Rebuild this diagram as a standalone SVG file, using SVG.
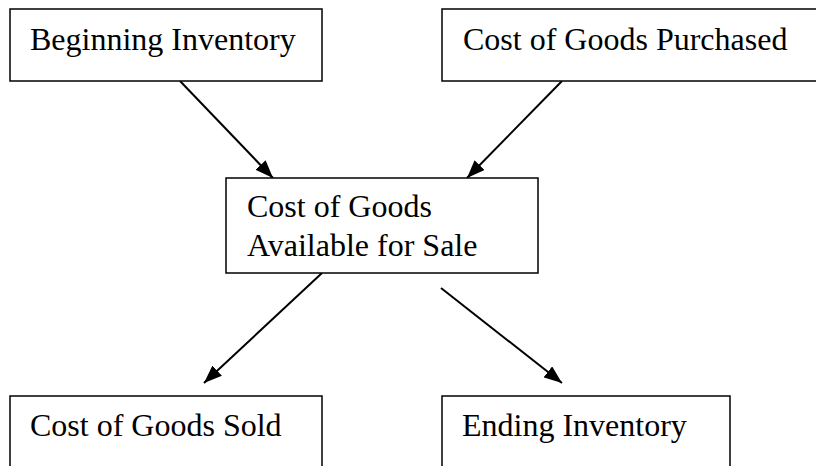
<svg xmlns="http://www.w3.org/2000/svg" width="816" height="466" viewBox="0 0 816 466">
<style>
.box{fill:#fff;stroke:#000;stroke-width:1.5}
.lbl{font-family:"Liberation Serif","Times New Roman",serif;font-size:32px;fill:#000}
.conn{stroke:#000;stroke-width:2;fill:none}
</style>
<defs>
<marker id="ah" markerWidth="18" markerHeight="14" refX="18" refY="7" orient="auto" markerUnits="userSpaceOnUse">
<path d="M0,0 L18,7 L0,14 Z" fill="#000"/>
</marker>
</defs>
<rect width="816" height="466" fill="#fff"/>
<g id="connectors">
<line class="conn" x1="180" y1="81" x2="273" y2="178" marker-end="url(#ah)"/>
<line class="conn" x1="562" y1="81" x2="467" y2="178" marker-end="url(#ah)"/>
<line class="conn" x1="322" y1="273" x2="204" y2="383" marker-end="url(#ah)"/>
<line class="conn" x1="441" y1="288" x2="562" y2="383" marker-end="url(#ah)"/>
</g>
<g id="beginning-inventory">
<rect class="box" x="10" y="9" width="312" height="72"/>
<text class="lbl" x="30" y="50">Beginning Inventory</text>
</g>
<g id="cost-of-goods-purchased">
<rect class="box" x="442" y="9" width="390" height="72"/>
<text class="lbl" x="463" y="50">Cost of Goods Purchased</text>
</g>
<g id="cost-of-goods-available">
<rect class="box" x="226" y="178" width="312" height="95"/>
<text class="lbl" x="247" y="217">Cost of Goods</text>
<text class="lbl" x="247" y="256">Available for Sale</text>
</g>
<g id="cost-of-goods-sold">
<rect class="box" x="10" y="396" width="312" height="90"/>
<text class="lbl" x="30" y="436">Cost of Goods Sold</text>
</g>
<g id="ending-inventory">
<rect class="box" x="442" y="396" width="288" height="90"/>
<text class="lbl" x="462" y="436">Ending Inventory</text>
</g>
</svg>
